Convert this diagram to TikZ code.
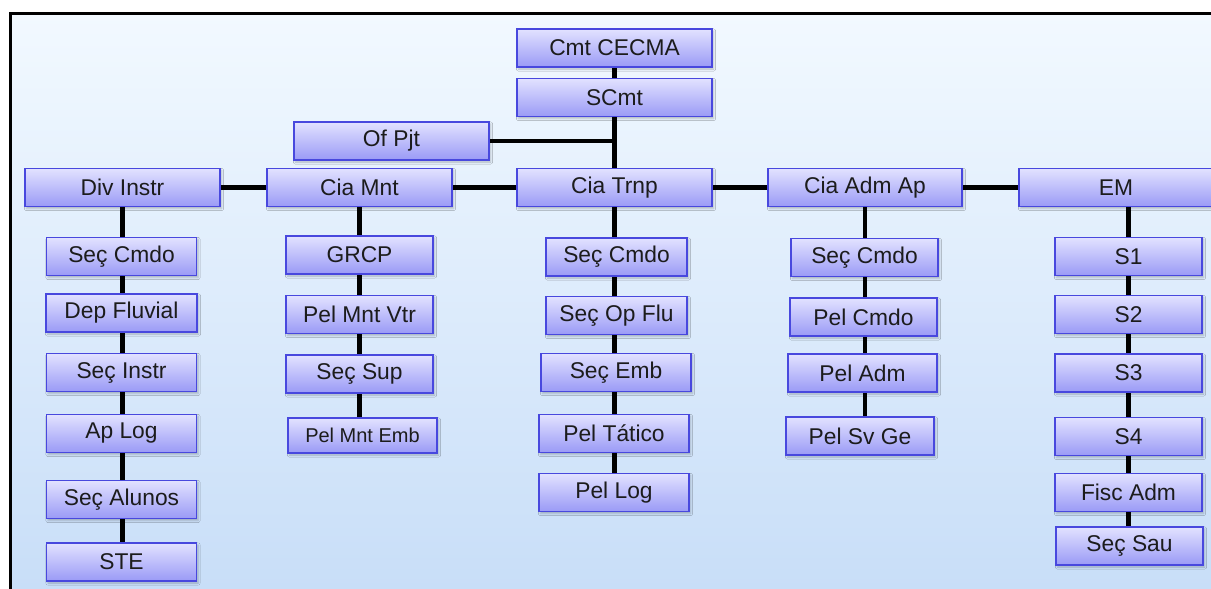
\documentclass[tikz,border=0pt]{standalone}
\usepackage{fontspec}
\setmainfont{Liberation Sans}
\usetikzlibrary{shadows.blur, backgrounds}

\definecolor{boxtop}{HTML}{E2E2FF}
\definecolor{boxbot}{HTML}{9A9AF6}
\definecolor{boxline}{HTML}{4848DE}
\definecolor{bgtop}{HTML}{F2F9FF}
\definecolor{bgbot}{HTML}{C8DEF8}
\definecolor{txt}{HTML}{1C1C1C}

\tikzset{
  secbox/.style={draw=boxline, line width=1.1pt, top color=boxtop, bottom color=boxbot,
    text=txt, inner sep=0pt, minimum width=148pt, minimum height=38pt,
    font=\fontsize{22.8}{27}\selectfont,
    blur shadow={shadow xshift=1.5pt, shadow yshift=-2pt, shadow blur steps=4, shadow opacity=25}},
  headbox/.style={secbox, minimum width=195pt},
  link/.style={line width=4.5pt, black}
}

\begin{document}
\begin{tikzpicture}[x=1pt, y=-1pt]
  \useasboundingbox (0,0) rectangle (1211,589);

  % command
  \node[headbox] (cmt) at (614.5,48) {Cmt CECMA};
  \node[headbox] (scmt) at (614.5,97.5) {SCmt};
  \node[headbox] (ofpjt) at (391.5,141) {Of Pjt};

  % companies
  \node[headbox] (divinstr) at (122.5,187.5) {Div Instr};
  \node[headbox, minimum width=185pt] (ciamnt) at (359.5,187.5) {Cia Mnt};
  \node[headbox] (ciatrnp) at (614.5,187.5) {Cia Trnp};
  \node[headbox, minimum width=194pt] (ciaadm) at (865,187.5) {Cia Adm Ap};
  \node[headbox, minimum width=194pt] (em) at (1116,187.5) {EM};

  % Div Instr
  \node[secbox, minimum width=150pt] (di1) at (121.5,256.5) {Seç Cmdo};
  \node[secbox, minimum width=151pt] (di2) at (121.5,313) {Dep Fluvial};
  \node[secbox, minimum width=150pt] (di3) at (121.5,372.5) {Seç Instr};
  \node[secbox, minimum width=150pt] (di4) at (121.5,433.5) {Ap Log};
  \node[secbox, minimum width=150pt] (di5) at (121.5,499.5) {Seç Alunos};
  \node[secbox, minimum width=150pt] (di6) at (121.5,562) {STE};

  % Cia Mnt
  \node[secbox, minimum width=147pt] (mn1) at (359.5,255) {GRCP};
  \node[secbox, minimum width=147pt] (mn2) at (359.5,314.5) {Pel Mnt Vtr};
  \node[secbox, minimum width=147pt] (mn3) at (359.5,374) {Seç Sup};
  \node[secbox, minimum width=149pt, minimum height=35pt,
        font=\fontsize{20}{24}\selectfont] (mn4) at (362.5,435.5) {Pel Mnt Emb};

  % Cia Trnp
  \node[secbox, minimum width=141pt] (tr1) at (616.5,257) {Seç Cmdo};
  \node[secbox, minimum width=141pt] (tr2) at (616.5,315.5) {Seç Op Flu};
  \node[secbox, minimum width=150pt] (tr3) at (616,372.5) {Seç Emb};
  \node[secbox, minimum width=150pt] (tr4) at (614,433.5) {Pel Tático};
  \node[secbox, minimum width=150pt] (tr5) at (614,492.5) {Pel Log};

  % Cia Adm Ap
  \node[secbox, minimum width=147pt] (ad1) at (864.5,257.5) {Seç Cmdo};
  \node[secbox, minimum width=147pt] (ad2) at (863.5,317) {Pel Cmdo};
  \node[secbox, minimum width=149pt] (ad3) at (862.5,373) {Pel Adm};
  \node[secbox, minimum width=148pt] (ad4) at (860,436) {Pel Sv Ge};

  % EM
  \node[secbox, minimum width=147pt] (em1) at (1128.5,256.5) {S1};
  \node[secbox, minimum width=147pt] (em2) at (1128.5,314.5) {S2};
  \node[secbox, minimum width=147pt] (em3) at (1128.5,373) {S3};
  \node[secbox, minimum width=147pt] (em4) at (1128.5,436.5) {S4};
  \node[secbox, minimum width=147pt] (em5) at (1128.5,492.5) {Fisc Adm};
  \node[secbox, minimum width=147pt] (em6) at (1129.5,546) {Seç Sau};

  \begin{scope}[on background layer]
    \fill[top color=bgtop, bottom color=bgbot] (10.3,13.3) rectangle (1211,589);
    \draw[line width=3.6pt] (10.3,589) -- (10.3,13.3) -- (1211,13.3);
    % connectors behind the boxes
    \draw[link] (cmt.center) -- (ciatrnp.center);
    \draw[link] (ofpjt.center) -- (ofpjt.center -| scmt.center);
    \draw[link] (divinstr.center) -- (em.center);
    \draw[link] (divinstr.center) -- (divinstr.center |- di6.center);
    \draw[link] (ciamnt.center) -- (ciamnt.center |- mn4.center);
    \draw[link] (ciatrnp.center) -- (ciatrnp.center |- tr5.center);
    \draw[link] (ciaadm.center) -- (ciaadm.center |- ad4.center);
    \draw[link] (em1.center |- em.center) -- (em1.center |- em6.center);
  \end{scope}
\end{tikzpicture}
\end{document}
